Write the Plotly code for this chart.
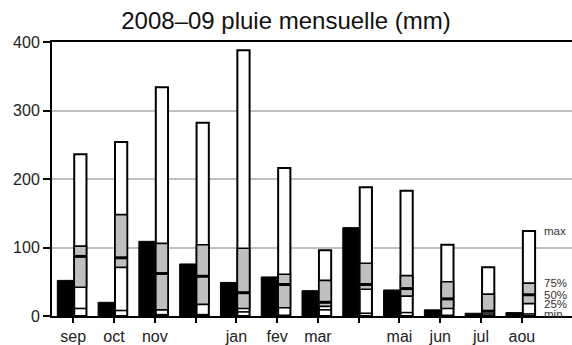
import plotly.graph_objects as go

# Monthly rainfall for the 2008-09 season and the long-term monthly statistics
months = ["sep", "oct", "nov", "dec", "jan", "fev", "mar", "avr", "mai", "jun", "jul", "aou"]
tick_labels = ["sep", "oct", "nov", "", "jan", "fev", "mar", "", "mai", "jun", "jul", "aou"]
rain_2008_09 = [52, 20, 109, 76, 49, 57, 37, 129, 38, 9, 4, 5]
stat_max = [236, 254, 334, 282, 388, 216, 96, 188, 183, 104, 71, 124]
stat_q75 = [102, 148, 106, 104, 99, 61, 52, 77, 59, 50, 32, 48]
stat_q50 = [87, 85, 62, 58, 34, 46, 20, 46, 40, 25, 7, 31]
stat_q25 = [42, 71, 9, 17, 11, 12, 14, 39, 29, 11, 3, 18]
stat_min = [11, 8, 2, 2, 6, 1, 9, 4, 5, 1, 0, 3]
stat_labels = ["max", "75%", "50%", "25%", "min"]

x = list(range(len(months)))
FONT = "Liberation Sans, Arial, sans-serif"
GRAY = "#bfbfbf"

# Bar geometry in axis units (one month = 1)
BLACK_W = 0.39
WHITE_OFF = 0.025
WHITE_W = 0.30

fig = go.Figure()

# Observed monthly totals (black, left of the tick)
fig.add_trace(go.Bar(
    x=x, y=rain_2008_09, width=BLACK_W, offset=-BLACK_W,
    marker=dict(color="black", line=dict(color="black", width=1)),
    showlegend=False, hoverinfo="y",
))

# Climatology envelope: min..max column (white)
fig.add_trace(go.Bar(
    x=x, y=stat_max, width=WHITE_W, offset=WHITE_OFF,
    marker=dict(color="white", line=dict(color="black", width=2)),
    showlegend=False, hoverinfo="y",
))

# Interquartile box (gray)
fig.add_trace(go.Bar(
    x=x, y=[a - b for a, b in zip(stat_q75, stat_q25)], base=stat_q25,
    width=WHITE_W, offset=WHITE_OFF,
    marker=dict(color=GRAY, line=dict(color="black", width=1.6)),
    showlegend=False, hoverinfo="skip",
))


def seg_lines(values):
    xs, ys = [], []
    for i, v in zip(x, values):
        xs += [i + WHITE_OFF, i + WHITE_OFF + WHITE_W, None]
        ys += [v, v, None]
    return xs, ys


# Minimum markers (thin) and medians (thick)
mx, my = seg_lines(stat_min)
fig.add_trace(go.Scatter(x=mx, y=my, mode="lines",
                         line=dict(color="black", width=1.6),
                         showlegend=False, hoverinfo="skip"))
qx, qy = seg_lines(stat_q50)
fig.add_trace(go.Scatter(x=qx, y=qy, mode="lines",
                         line=dict(color="black", width=3),
                         showlegend=False, hoverinfo="skip"))

# Key written next to the last column, at that column's statistics
last = len(months) - 1
for lab, val in zip(stat_labels, [stat_max[last], stat_q75[last], stat_q50[last],
                                  stat_q25[last], stat_min[last]]):
    fig.add_annotation(x=last + 0.5, y=val, text=lab, showarrow=False,
                       xanchor="left", yanchor="middle",
                       font=dict(family=FONT, size=11.5, color="#333333"))

fig.update_layout(
    width=572, height=345,
    margin=dict(l=52, r=0, t=42, b=24),
    paper_bgcolor="white", plot_bgcolor="white",
    barmode="overlay",
    title=dict(text="2008\u201309 pluie mensuelle (mm)", x=0.5, xanchor="center",
               y=1 - 21 / 345, yanchor="middle", yref="container",
               font=dict(family=FONT, size=24, color="#111111")),
    xaxis=dict(
        range=[-0.52, 12.23], tickmode="array", tickvals=x, ticktext=tick_labels,
        showgrid=False, zeroline=False,
        showline=True, linecolor="black", linewidth=2, mirror=True,
        ticks="outside", ticklen=5, tickwidth=1.5, tickcolor="black",
        tickfont=dict(family=FONT, size=16, color="#222222"),
    ),
    yaxis=dict(
        range=[0, 400], tickmode="array", tickvals=[0, 100, 200, 300, 400],
        showgrid=True, gridcolor=GRAY, gridwidth=1.5, zeroline=False,
        showline=True, linecolor="black", linewidth=2,
        ticks="outside", ticklen=7, tickwidth=1.5, tickcolor="black",
        tickfont=dict(family=FONT, size=16, color="#222222"),
    ),
)

fig.write_html("out.html")
